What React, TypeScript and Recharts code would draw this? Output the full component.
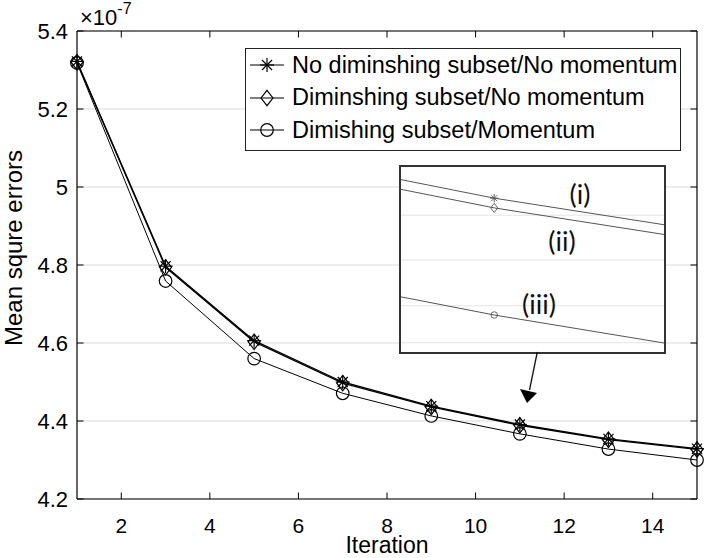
import React from "react";
import {
  CartesianGrid,
  Label,
  Legend,
  Line,
  LineChart,
  ReferenceLine,
  XAxis,
  YAxis,
} from "recharts";

// values are in units of 1e-7
const ITERATIONS = [1, 3, 5, 7, 9, 11, 13, 15];
const NO_DIM_NO_MOM = [5.322, 4.797, 4.606, 4.5, 4.438, 4.391, 4.354, 4.329];
const DIM_NO_MOM = [5.32, 4.794, 4.603, 4.497, 4.436, 4.389, 4.352, 4.327];
const DIM_MOM = [5.318, 4.759, 4.56, 4.471, 4.413, 4.367, 4.328, 4.3];

const SERIES_NAMES = [
  "No diminshing subset/No momentum",
  "Diminshing subset/No momentum",
  "Dimishing subset/Momentum",
];
const SERIES_KEYS = ["a", "b", "c"];
const SERIES_MARKERS = ["star", "diamond", "circle"];

const X_TICKS = [2, 4, 6, 8, 10, 12, 14];
const Y_TICKS = [4.2, 4.4, 4.6, 4.8, 5.0, 5.2, 5.4];

// zoomed-in window around iteration 11
const INSET_X_DOMAIN = [10.838, 11.295];
const INSET_Y_DOMAIN = [4.3594, 4.3974];
const INSET_GRID = [4.3967, 4.3875, 4.3783, 4.3689, 4.3613];
const INSET_MARK_AT = 11;
const INSET_TAGS = ["(i)", "(ii)", "(iii)"];

const data = ITERATIONS.map((x, i) => ({
  x,
  a: NO_DIM_NO_MOM[i],
  b: DIM_NO_MOM[i],
  c: DIM_MOM[i],
}));

const FONT = "'Liberation Sans', Arial, Helvetica, sans-serif";
const TAG_FONT = "Lato, 'Open Sans', sans-serif";
const X_TICK_LEN = 0.0167; // inward tick length in y units
const Y_TICK_LEN = 0.147; // inward tick length in x units

type MarkerProps = { kind: string; cx: number; cy: number; r: number; stroke: string; sw?: number };

function Marker({ kind, cx, cy, r, stroke, sw = 1.1 }: MarkerProps) {
  if (kind === "star") {
    const d = r * 0.72;
    return (
      <g stroke={stroke} strokeWidth={sw} fill="none">
        <line x1={cx - r} y1={cy} x2={cx + r} y2={cy} />
        <line x1={cx} y1={cy - r} x2={cx} y2={cy + r} />
        <line x1={cx - d} y1={cy - d} x2={cx + d} y2={cy + d} />
        <line x1={cx - d} y1={cy + d} x2={cx + d} y2={cy - d} />
      </g>
    );
  }
  if (kind === "diamond") {
    const w = r * 0.85;
    const h = r * 1.1;
    return (
      <polygon
        points={`${cx},${cy - h} ${cx + w},${cy} ${cx},${cy + h} ${cx - w},${cy}`}
        fill="none"
        stroke={stroke}
        strokeWidth={sw}
      />
    );
  }
  return <circle cx={cx} cy={cy} r={r * 0.9} fill="none" stroke={stroke} strokeWidth={sw} />;
}

const mainDot = (kind: string) => (props: any) => (
  <g key={`${kind}-${props.index}`}>
    <Marker kind={kind} cx={props.cx} cy={props.cy} r={7} stroke="#000" sw={1.2} />
  </g>
);

const insetDot = (kind: string) => (props: any) =>
  props.payload.x === INSET_MARK_AT ? (
    <g key={`i-${kind}-${props.index}`}>
      <Marker kind={kind} cx={props.cx} cy={props.cy} r={kind === "circle" ? 3.6 : 4.2} stroke="#555" sw={0.9} />
    </g>
  ) : (
    <g key={`i-${kind}-${props.index}`} />
  );

const renderLegend = () => (
  <div
    style={{
      boxSizing: "border-box",
      width: 436,
      height: 103,
      border: "1.5px solid #222",
      background: "#fff",
      fontFamily: FONT,
      fontSize: 23.5,
      color: "#000",
    }}
  >
    {SERIES_NAMES.map((name, i) => (
      <div key={name} style={{ display: "flex", alignItems: "center", height: 32.5 }}>
        <svg width={34} height={22} style={{ marginLeft: 4 }}>
          <line x1={0} y1={11} x2={34} y2={11} stroke="#000" strokeWidth={1.2} />
          <Marker kind={SERIES_MARKERS[i]} cx={17} cy={11} r={7} stroke="#000" sw={1.2} />
        </svg>
        <span style={{ marginLeft: 8, whiteSpace: "nowrap" }}>{name}</span>
      </div>
    ))}
  </div>
);

const yLabel = (props: any) => {
  const vb = props.viewBox;
  const cx = vb.x + 22;
  const cy = vb.y + vb.height / 2 - 17;
  return (
    <text
      x={cx}
      y={cy}
      transform={`rotate(-90 ${cx} ${cy})`}
      textAnchor="middle"
      fontSize={24}
      fontFamily={FONT}
      fill="#000"
    >
      Mean squre errors
    </text>
  );
};

const fmt = (v: number) => String(Number(v.toFixed(1)));

export default function App() {
  return (
    <div style={{ position: "absolute", left: 0, top: 0, width: 709, height: 558, background: "#fff" }}>
      <LineChart width={709} height={558} data={data} margin={{ top: 31, right: 12, bottom: 0, left: 0 }}>
        <CartesianGrid vertical={false} stroke="#d9d9d9" />
        <XAxis
          dataKey="x"
          type="number"
          domain={[1, 15]}
          ticks={X_TICKS}
          height={59}
          axisLine={{ stroke: "#000", strokeWidth: 1.2 }}
          tickLine={false}
          tickSize={0}
          tickMargin={19}
          tick={{ fill: "#000", fontSize: 21, fontFamily: FONT }}
        >
          <Label value="Iteration" position="insideBottom" offset={5} fontSize={23} fontFamily={FONT} fill="#000" />
        </XAxis>
        <YAxis
          type="number"
          domain={[4.2, 5.4]}
          ticks={Y_TICKS}
          width={77}
          axisLine={{ stroke: "#000", strokeWidth: 1.2 }}
          tickLine={false}
          tickSize={0}
          tickMargin={9}
          tickFormatter={fmt}
          tick={{ fill: "#000", fontSize: 22, fontFamily: FONT }}
        >
          <Label content={yLabel} />
        </YAxis>
        <ReferenceLine y={5.4} stroke="#000" strokeWidth={1.2} ifOverflow="visible" />
        <ReferenceLine x={15} stroke="#000" strokeWidth={1.2} ifOverflow="visible" />
        {X_TICKS.map((t) => (
          <ReferenceLine key={`xb${t}`} segment={[{ x: t, y: 4.2 }, { x: t, y: 4.2 + X_TICK_LEN }]} stroke="#000" ifOverflow="visible" />
        ))}
        {X_TICKS.map((t) => (
          <ReferenceLine key={`xt${t}`} segment={[{ x: t, y: 5.4 }, { x: t, y: 5.4 - X_TICK_LEN }]} stroke="#000" ifOverflow="visible" />
        ))}
        {Y_TICKS.map((t) => (
          <ReferenceLine key={`yl${t}`} segment={[{ x: 1, y: t }, { x: 1 + Y_TICK_LEN, y: t }]} stroke="#000" ifOverflow="visible" />
        ))}
        {Y_TICKS.map((t) => (
          <ReferenceLine key={`yr${t}`} segment={[{ x: 15, y: t }, { x: 15 - Y_TICK_LEN, y: t }]} stroke="#000" ifOverflow="visible" />
        ))}
        <Legend
          layout="vertical"
          align="center"
          verticalAlign="middle"
          content={renderLegend}
          wrapperStyle={{ position: "absolute", left: 245, top: 48, width: 436, height: 103 }}
        />
        {SERIES_KEYS.map((k, i) => (
          <Line
            key={k}
            type="linear"
            dataKey={k}
            name={SERIES_NAMES[i]}
            stroke="#000"
            strokeWidth={i === 2 ? 1 : 1.3}
            dot={mainDot(SERIES_MARKERS[i])}
            activeDot={false}
            isAnimationActive={false}
          />
        ))}
      </LineChart>

      {/* zoom inset */}
      <div
        style={{
          position: "absolute",
          left: 399,
          top: 165,
          width: 263,
          height: 185,
          border: "2px solid #333",
          background: "#fff",
        }}
      >
        <LineChart width={263} height={185} data={data} margin={{ top: 0, right: 0, bottom: 0, left: 0 }}>
          <CartesianGrid vertical={false} stroke="#e4e4e4" horizontalValues={INSET_GRID} />
          <XAxis dataKey="x" type="number" hide domain={INSET_X_DOMAIN} allowDataOverflow />
          <YAxis type="number" hide domain={INSET_Y_DOMAIN} ticks={INSET_GRID} allowDataOverflow />
          {SERIES_KEYS.map((k, i) => (
            <Line
              key={k}
              type="linear"
              dataKey={k}
              stroke="#555"
              strokeWidth={1}
              dot={insetDot(SERIES_MARKERS[i])}
              activeDot={false}
              isAnimationActive={false}
            />
          ))}
        </LineChart>
      </div>

      <svg width={709} height={558} style={{ position: "absolute", left: 0, top: 0, pointerEvents: "none" }}>
        <text x={80} y={25} fontSize={22} fontFamily={FONT} fill="#000">
          ×10
          <tspan dy={-11} fontSize={16}>
            -7
          </tspan>
        </text>
        <text x={580} y={193} textAnchor="middle" dominantBaseline="central" fontSize={27} fontFamily={TAG_FONT} fill="#111">
          {INSET_TAGS[0]}
        </text>
        <text x={562} y={240} textAnchor="middle" dominantBaseline="central" fontSize={27} fontFamily={TAG_FONT} fill="#111">
          {INSET_TAGS[1]}
        </text>
        <text x={539} y={303} textAnchor="middle" dominantBaseline="central" fontSize={27} fontFamily={TAG_FONT} fill="#111">
          {INSET_TAGS[2]}
        </text>
        <line x1={537.3} y1={352} x2={529.5} y2={390} stroke="#111" strokeWidth={1.3} />
        <polygon points="520,389 537,393 527,403" fill="#000" />
      </svg>
    </div>
  );
}
